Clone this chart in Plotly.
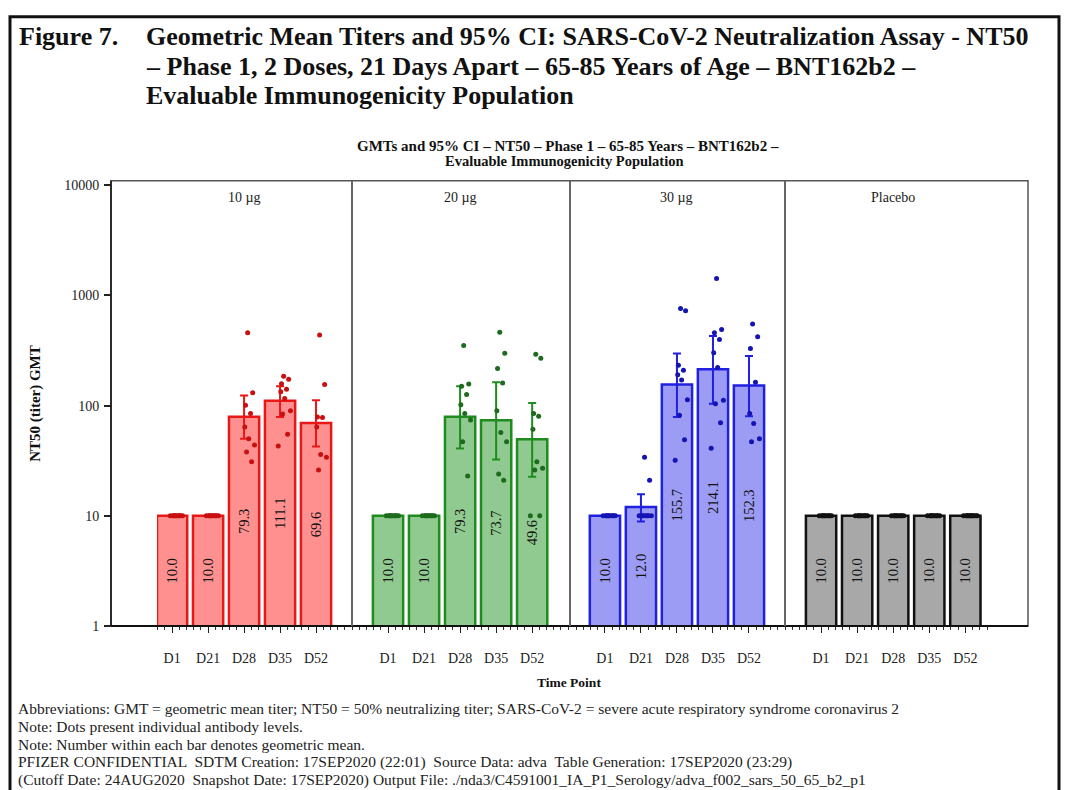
import plotly.graph_objects as go

W, H = 1065, 790

# ---------------- data ----------------
timepoints = ["D1", "D21", "D28", "D35", "D52"]
groups = ["10 µg", "20 µg", "30 µg", "Placebo"]

gmt_10ug = [10.0, 10.0, 79.3, 111.1, 69.6]
gmt_20ug = [10.0, 10.0, 79.3, 73.7, 49.6]
gmt_30ug = [10.0, 12.0, 155.7, 214.1, 152.3]
gmt_placebo = [10.0, 10.0, 10.0, 10.0, 10.0]

ci_low_10ug = [10.0, 10.0, 50.0, 79.0, 42.7]
ci_high_10ug = [10.0, 10.0, 124.0, 150.0, 112.0]
ci_low_20ug = [10.0, 10.0, 40.8, 32.4, 22.6]
ci_high_20ug = [10.0, 10.0, 150.0, 163.0, 106.0]
ci_low_30ug = [10.0, 8.9, 79.0, 104.0, 80.0]
ci_high_30ug = [10.0, 15.7, 297.0, 428.0, 283.0]
ci_low_placebo = [10.0, 10.0, 10.0, 10.0, 10.0]
ci_high_placebo = [10.0, 10.0, 10.0, 10.0, 10.0]

dots_10ug = [
    [10] * 10,
    [10] * 10,
    [458, 131, 101, 85, 64, 50, 44, 38, 31],
    [185, 174, 158, 141, 134, 116, 90, 84, 55, 43],
    [437, 156, 79, 78, 64, 36, 34, 26],
]
dots_20ug = [
    [10] * 10,
    [10] * 10,
    [352, 157, 150, 126, 102, 85, 74, 47, 23],
    [465, 299, 218, 161, 90, 57, 47, 24, 21],
    [293, 270, 85, 80, 61, 31, 27, 26, 10, 10],
]
dots_30ug = [
    [10] * 10,
    [34, 21, 10, 10, 10, 10, 10, 10, 10, 10],
    [764, 726, 233, 210, 191, 171, 113, 82, 49, 32],
    [1425, 491, 458, 399, 303, 222, 112, 104, 70, 41],
    [552, 422, 331, 163, 85, 69, 50, 47],
]
dots_placebo = [
    [10] * 10,
    [10] * 10,
    [10] * 10,
    [10] * 10,
    [10] * 12,
]

ytick_vals = [1, 10, 100, 1000, 10000]
ytick_text = ["1", "10", "100", "1000", "10000"]

# ---------------- styles ----------------
fills = ["#FF9090", "#90CA90", "#9C9CF4", "#A8A8A8"]
edges = ["#E81818", "#1E8C1E", "#2020E0", "#111111"]
dotcols = ["#C81010", "#1E6A1E", "#1414B4", "#111111"]
jitter = [0.10, 0.24, 0.04, 0.18, 0.02, 0.13, 0.29, 0.07, 0.21, -0.05, 0.16, 0.33]

SERIF = "Liberation Serif"


def px(x):
    return x / W


def py(y):
    return 1 - y / H


# panel geometry (pixels) and x ranges (category units)
panel_dom = [(157, 352), (352, 570), (570, 785), (785, 987)]
panel_rng = [(-0.42, 5.0), (-1.0, 5.05), (-0.97, 5.0), (-1.0, 4.6)]
y_top, y_bot = 181, 632
y_left, x_right = 111, 1028

gmts = [gmt_10ug, gmt_20ug, gmt_30ug, gmt_placebo]
lows = [ci_low_10ug, ci_low_20ug, ci_low_30ug, ci_low_placebo]
highs = [ci_high_10ug, ci_high_20ug, ci_high_30ug, ci_high_placebo]
dots = [dots_10ug, dots_20ug, dots_30ug, dots_placebo]

fig = go.Figure()
xpos = list(range(len(timepoints)))

for g in range(4):
    xa = "x" if g == 0 else f"x{g + 1}"
    up = [h - m for h, m in zip(highs[g], gmts[g])]
    dn = [m - l for m, l in zip(gmts[g], lows[g])]
    fig.add_trace(go.Bar(
        x=xpos, y=gmts[g], xaxis=xa, yaxis="y",
        width=0.84,
        marker=dict(color=fills[g], line=dict(color=edges[g], width=2.5)),
        error_y=dict(type="data", array=up, arrayminus=dn, visible=True,
                     color=edges[g], thickness=2, width=4),
        text=[f"{v:.1f}" for v in gmts[g]],
        textposition="inside", insidetextanchor="middle", textangle=-90,
        textfont=dict(family=SERIF, size=14.5, color="#111111"),
        constraintext="none",
        showlegend=False, hoverinfo="y",
    ))
    dx, dy = [], []
    for i, vals in enumerate(dots[g]):
        for k, v in enumerate(vals):
            dx.append(i + jitter[k % len(jitter)])
            dy.append(v)
    fig.add_trace(go.Scatter(
        x=dx, y=dy, xaxis=xa, yaxis="y", mode="markers",
        marker=dict(color=dotcols[g], size=5),
        showlegend=False, hoverinfo="y",
    ))

layout = dict(
    width=W, height=H, autosize=False,
    margin=dict(l=0, r=0, t=0, b=0),
    paper_bgcolor="white", plot_bgcolor="rgba(0,0,0,0)",
    bargap=0.1,
    font=dict(family=SERIF, color="#111111"),
    yaxis=dict(
        type="log", range=[0, 4.042],
        domain=[py(y_bot), py(y_top)],
        anchor="free", position=px(y_left),
        tickvals=ytick_vals, ticktext=ytick_text,
        ticks="outside", ticklen=7, tickwidth=1.5, tickcolor="#222",
        showgrid=False, zeroline=False, showline=False,
        tickfont=dict(family=SERIF, size=14, color="#222"),
        ticklabelstandoff=2,
    ),
)
for g in range(4):
    key = "xaxis" if g == 0 else f"xaxis{g + 1}"
    d0, d1 = panel_dom[g]
    layout[key] = dict(
        domain=[px(d0), px(d1)], range=list(panel_rng[g]),
        anchor="y", tickvals=xpos, ticktext=timepoints,
        ticks="outside", ticklen=6, tickwidth=1.3, tickcolor="#222",
        minor=dict(tickmode="linear", tick0=0, dtick=0.2, ticks="outside",
                   ticklen=3, tickwidth=1, tickcolor="#333", showgrid=False),
        showgrid=False, zeroline=False, showline=False,
        tickfont=dict(family=SERIF, size=14, color="#222"),
        ticklabelstandoff=13,
    )

shapes = [
    # frame of the plot area
    dict(type="rect", xref="paper", yref="paper",
         x0=px(y_left), x1=px(x_right), y0=py(y_bot), y1=py(y_top),
         line=dict(color="#555555", width=1.5), layer="above"),
    dict(type="line", xref="paper", yref="paper",
         x0=px(y_left), x1=px(x_right), y0=py(y_bot), y1=py(y_bot),
         line=dict(color="#111111", width=2), layer="above"),
    dict(type="line", xref="paper", yref="paper",
         x0=px(y_left), x1=px(y_left), y0=py(y_bot), y1=py(y_top),
         line=dict(color="#111111", width=1.5), layer="above"),
    # outer figure border
    dict(type="rect", xref="paper", yref="paper",
         x0=px(10), x1=px(1059), y0=py(800), y1=py(15),
         line=dict(color="#111111", width=3)),
]
for sx in (352, 570, 785):
    shapes.append(dict(type="line", xref="paper", yref="paper",
                       x0=px(sx), x1=px(sx), y0=py(y_bot), y1=py(y_top),
                       line=dict(color="#666666", width=2), layer="above"))
layout["shapes"] = shapes

ann = []
# figure title
ann.append(dict(text="<b>Figure 7.</b>", x=px(17), y=py(35), xref="paper", yref="paper",
                xanchor="left", yanchor="middle", showarrow=False,
                font=dict(family=SERIF, size=26, color="#111")))
title_lines = [
    "Geometric Mean Titers and 95% CI: SARS-CoV-2 Neutralization Assay - NT50",
    "– Phase 1, 2 Doses, 21 Days Apart – 65-85 Years of Age – BNT162b2 –",
    "Evaluable Immunogenicity Population",
]
for i, t in enumerate(title_lines):
    ann.append(dict(text=f"<b>{t}</b>", x=px(144), y=py(35 + 30 * i), xref="paper", yref="paper",
                    xanchor="left", yanchor="middle", showarrow=False,
                    font=dict(family=SERIF, size=26, color="#111")))
# chart title
ann.append(dict(text="<b>GMTs and 95% CI – NT50 – Phase 1 – 65-85 Years – BNT162b2 –</b>",
                x=px(568), y=py(146), xref="paper", yref="paper",
                xanchor="center", yanchor="middle", showarrow=False,
                font=dict(family=SERIF, size=15, color="#111")))
ann.append(dict(text="<b>Evaluable Immunogenicity Population</b>",
                x=px(564), y=py(161), xref="paper", yref="paper",
                xanchor="center", yanchor="middle", showarrow=False,
                font=dict(family=SERIF, size=14.5, color="#111")))
# panel labels
for g in range(4):
    xr = "x" if g == 0 else f"x{g + 1}"
    ann.append(dict(text=groups[g], x=2, y=py(198), xref=xr, yref="paper",
                    xanchor="center", yanchor="middle", showarrow=False,
                    font=dict(family=SERIF, size=14, color="#222")))
# axis titles
ann.append(dict(text="<b>NT50 (titer) GMT</b>", x=px(36), y=py(406), xref="paper", yref="paper",
                textangle=-90, xanchor="center", yanchor="middle", showarrow=False,
                font=dict(family=SERIF, size=15, color="#111")))
ann.append(dict(text="<b>Time Point</b>", x=px(569), y=py(689), xref="paper", yref="paper",
                xanchor="center", yanchor="middle", showarrow=False,
                font=dict(family=SERIF, size=13.5, color="#111")))
# footnotes
foot = [
    "Abbreviations: GMT = geometric mean titer; NT50 = 50% neutralizing titer; SARS-CoV-2 = severe acute respiratory syndrome coronavirus 2",
    "Note: Dots present individual antibody levels.",
    "Note: Number within each bar denotes geometric mean.",
    "PFIZER CONFIDENTIAL  SDTM Creation: 17SEP2020 (22:01)  Source Data: adva  Table Generation: 17SEP2020 (23:29)",
    "(Cutoff Date: 24AUG2020  Snapshot Date: 17SEP2020) Output File: ./nda3/C4591001_IA_P1_Serology/adva_f002_sars_50_65_b2_p1",
]
for i, t in enumerate(foot):
    ann.append(dict(text=t, x=px(16), y=py(716 + 18 * i), xref="paper", yref="paper",
                    xanchor="left", yanchor="middle", showarrow=False,
                    font=dict(family=SERIF, size=15.5, color="#222")))
layout["annotations"] = ann

fig.update_layout(**layout)
fig.write_html("out.html", config={"displayModeBar": False},
               post_script="document.body.style.margin='0px';document.body.style.overflow='hidden';")
